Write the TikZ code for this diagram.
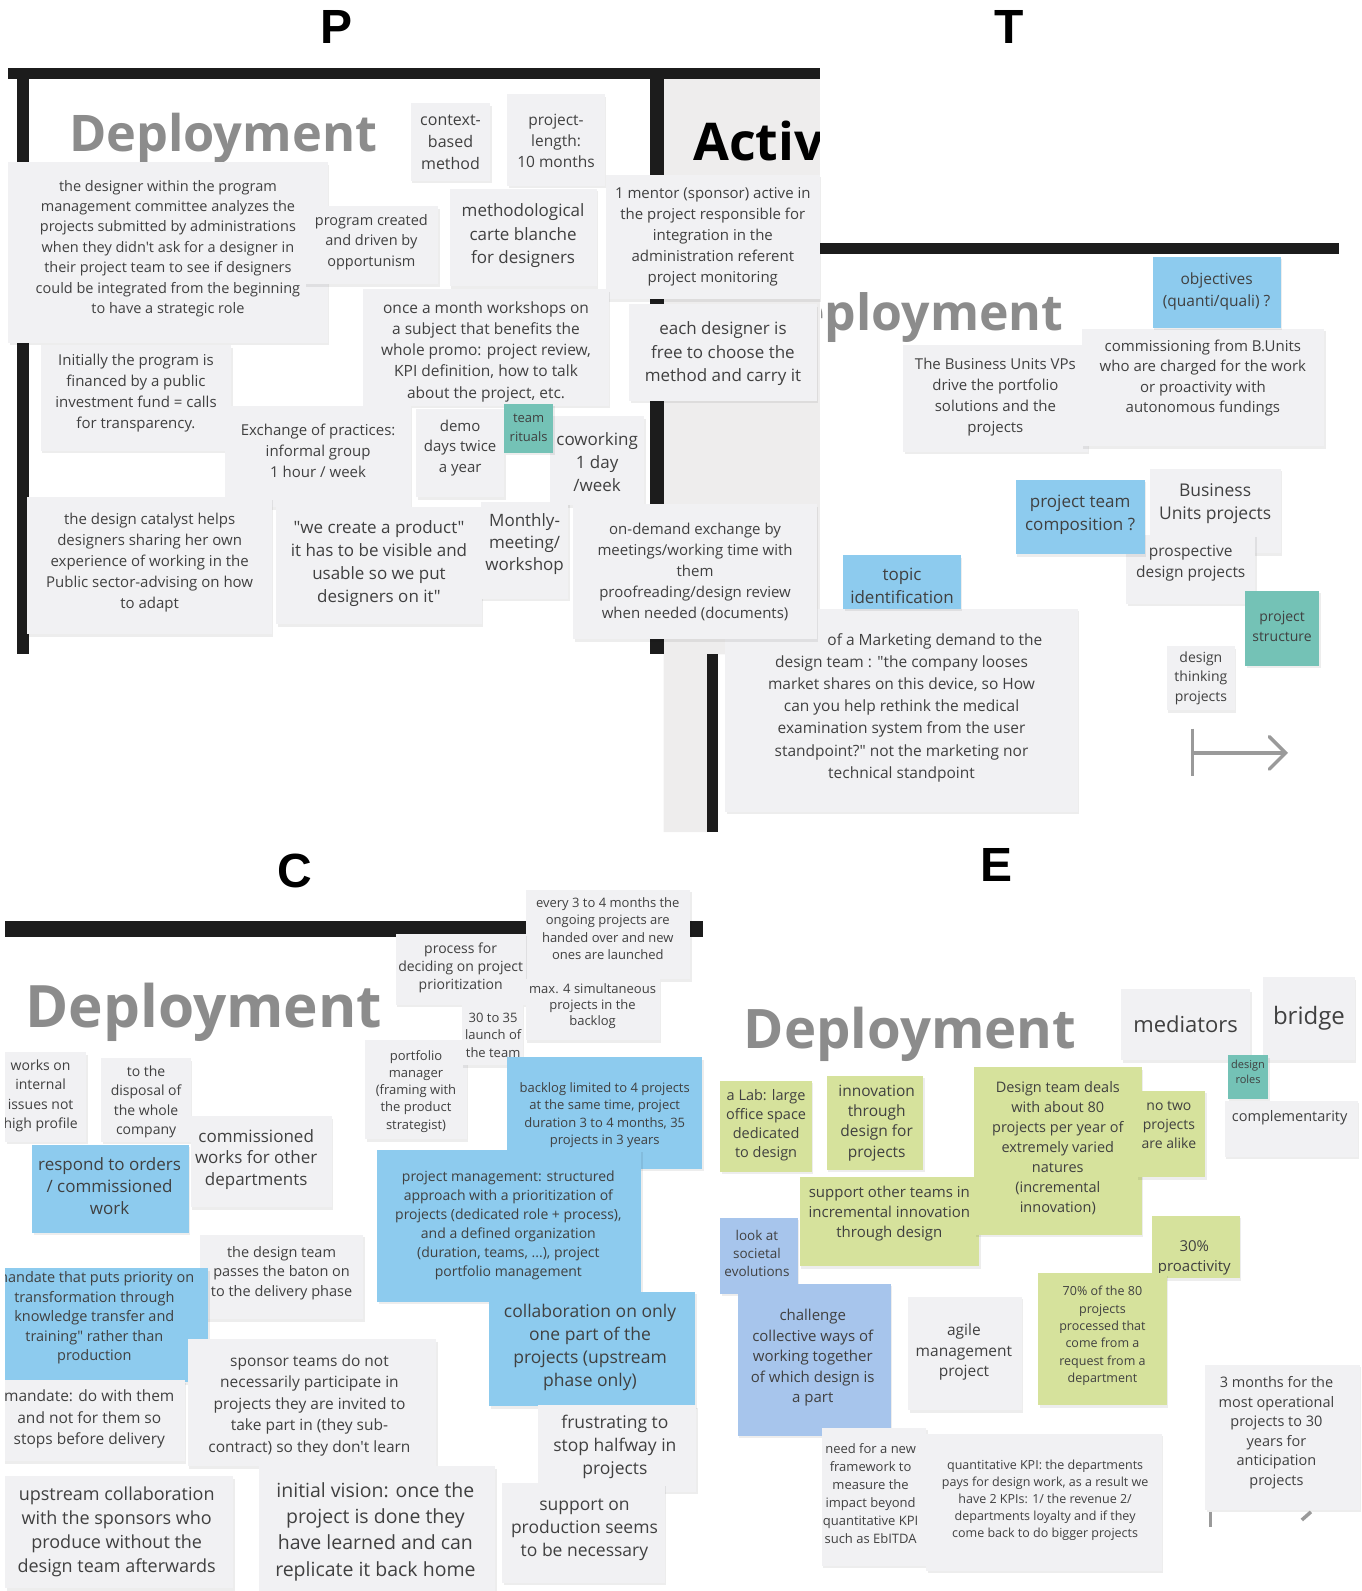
\documentclass[tikz,border=0pt]{standalone}
\usepackage{fontspec}
\setmainfont{Open Sans}[Ligatures=TeXOff]
\newfontfamily\labfont{Liberation Sans}
\usetikzlibrary{calc}
\definecolor{notegray}{HTML}{F1F1F3}
\definecolor{nblue}{HTML}{8DCBEE}
\definecolor{nteal}{HTML}{74C2B6}
\definecolor{ngreen}{HTML}{D6E29C}
\definecolor{nlav}{HTML}{A7C5EC}
\definecolor{txtc}{HTML}{404040}
\definecolor{depgray}{HTML}{8C8C8C}
\definecolor{actgray}{HTML}{EEEDED}
\definecolor{barc}{HTML}{1C1C1C}
\definecolor{arrgray}{HTML}{9A9A9A}
\newcommand\dq{\symbol{34}}
% sticky note: [text offset]{fill}{name}{x1,y1}{x2,y2}{options}{text}
\newcommand\stk[7][0,0]{%
  \fill[black,opacity=0.07] ($(#4)+(1.5,2.5)$) rectangle ($(#5)+(1.5,2.5)$);
  \fill[#2] (#4) rectangle (#5);
  \node[txt,#6] (#3) at ($(#4)!0.5!(#5)+(#1)$) {#7};}
\begin{document}
\begin{tikzpicture}[x=1.015pt,y=-1.015pt,
  txt/.style={align=center, inner sep=0pt, text=txtc},
  fs/.style 2 args={font=\fontsize{#1}{#2}\selectfont},
  lab/.style={font=\labfont\bfseries\fontsize{48}{48}\selectfont, text=black, inner sep=0pt},
  dep/.style={anchor=base west, text=depgray, inner sep=0pt},
  bigfont/.style={font=\bfseries\fontsize{#1}{#1}\selectfont}]
\useasboundingbox (0,0) rectangle (1342,1568);

% ---------- panel labels
\node[lab] (labP) at (332,27) {P};
\node[lab] (labT) at (995,27) {T};
\node[lab] (labC) at (291,858) {C};
\node[lab] (labE) at (982,852) {E};

% ---------- background pieces of P / T
\begin{scope}
  \clip (810,250) rectangle (1100,345);
  \node[dep, anchor=base east, bigfont=50] (tDep) at (1048,326) {Deployment};
\end{scope}
\fill[actgray] (654,78) -- (808,78) -- (808,645) -- (697,645) -- (697,820) -- (654,820) -- cycle;
\fill[barc] (8,67) rectangle (808,78);
\fill[barc] (17,78) rectangle (29,645);
\fill[barc] (641,78) rectangle (654,645);
\fill[barc] (808,239) rectangle (1320,250);
\fill[barc] (697,645) rectangle (708,820);
\begin{scope}
  \clip (654,78) rectangle (808,300);
  \node[anchor=base west, inner sep=0pt, text=black, bigfont=52] (activ) at (683,158) {Activ};
\end{scope}
\node[dep, bigfont=50.5] (pDep) at (68,149) {Deployment};

% ---------- P notes
\stk{notegray}{pContext}{405,102}{483,178}{fs={16}{22}}{context-\\based\\method}
\stk[0,1]{notegray}{pLength}{500,93}{596,183}{fs={15.5}{21}}{project-\\length:\\10 months}
\stk[0,-4]{notegray}{pDesigner}{8,160}{323,338}{fs={14.5}{20.4}}{the designer within the program\\management committee analyzes the\\projects submitted by administrations\\when they didn't ask for a designer in\\their project team to see if designers\\could be integrated from the beginning\\to have a strategic role}
\stk[0,-3]{notegray}{pProgram}{300,203}{432,280}{fs={14.5}{20.5}}{program created\\and driven by\\opportunism}
\stk[0,-1.5]{notegray}{pMethod}{443,186}{588,282}{fs={17}{23.5}}{methodological\\carte blanche\\for designers}
\stk{notegray}{pMentor}{597,172}{808,295}{fs={15}{21}}{1 mentor (sponsor) active in\\the project responsible for\\integration in the\\administration referent\\project monitoring}
\stk[0,4]{notegray}{pMonth}{358,285}{600,400}{fs={15.5}{21.3}}{once a month workshops on\\a subject that benefits the\\whole promo: project review,\\KPI definition, how to talk\\about the project, etc.}
\stk[0,1]{notegray}{pFree}{620,300}{805,395}{fs={17}{23.5}}{each designer is\\free to choose the\\method and carry it}
\stk[0,-4.5]{notegray}{pInit}{40,340}{228,444}{fs={15}{21}}{Initially the program is\\financed by a public\\investment fund = calls\\for transparency.}
\stk[0,-6]{notegray}{pExch}{222,400}{405,500}{fs={15}{21}}{Exchange of practices:\\informal group\\1 hour / week}
\stk[0,-5]{notegray}{pDemo}{410,403}{497,490}{fs={15}{20.5}}{demo\\days twice\\a year}
\stk[0,1]{notegray}{pCowork}{542,410}{635,498}{fs={17}{23}}{coworking\\1 day\\/week}
\stk{nteal}{pRituals}{497,398}{545,446}{fs={13}{19}}{team\\rituals}
\stk[0,-3.5]{notegray}{pCatalyst}{27,490}{268,625}{fs={15}{21}}{the design catalyst helps\\designers sharing her own\\experience of working in the\\Public sector-advising on how\\to adapt}
\stk[0,-2]{notegray}{pProduct}{272,500}{475,615}{fs={17}{23}}{\dq we create a product\dq\\it has to be visible and\\usable so we put\\designers on it\dq}
\stk[0,-6.5]{notegray}{pMonthly}{474,495}{560,590}{fs={17}{22}}{Monthly-\\meeting/\\workshop}

% ---------- T notes
\stk[0,-2.5]{notegray}{tMarketing}{715,600}{1062,800}{fs={15.5}{22.2}}{\hspace*{4.3em}of a Marketing demand to the\\design team : \dq the company looses\\market shares on this device, so How\\can you help rethink the medical\\examination system from the user\\standpoint?\dq{} not the marketing nor\\technical standpoint}
\stk{notegray}{pDemand}{565,497}{805,630}{fs={15}{21}}{on-demand exchange by\\meetings/working time with\\them\\proofreading/design review\\when needed (documents)}
\stk[0,-1]{notegray}{tVPs}{890,340}{1072,445}{fs={15}{21}}{The Business Units VPs\\drive the portfolio\\solutions and the\\projects}
\stk[0,-9.5]{notegray}{tComm}{1066,324}{1305,440}{fs={15}{20.5}}{commissioning from B.Units\\who are charged for the work\\or proactivity with\\autonomous fundings}
\stk[0,-1]{nblue}{tObj}{1136,253}{1262,323}{fs={15.5}{22}}{objectives\\(quanti/quali) ?}
\stk[0,-7]{notegray}{tBU}{1133,462}{1262,545}{fs={17.5}{23.5}}{Business\\Units projects}
\stk[0,-5.5]{notegray}{tProsp}{1110,527}{1237,595}{fs={15.5}{21}}{prospective\\design projects}
\stk[0,-2]{nblue}{tTeam}{1001,473}{1128,546}{fs={17}{23}}{project team\\composition ?}
\stk[0,4]{nblue}{tTopic}{831,547}{947,600}{fs={17}{23}}{topic\\identification}
\stk{notegray}{tDT}{1150,637}{1217,700}{fs={14}{19.5}}{design\\thinking\\projects}
\stk[0,-2]{nteal}{tStruct}{1227,582}{1300,656}{fs={14}{20}}{project\\structure}
\draw[arrgray, line width=3.5pt] (1175,718) -- (1175,765);
\draw[arrgray, line width=3.5pt] (1175,742) -- (1266,742);
\draw[arrgray, line width=3.5pt, line cap=round] (1251,726) -- (1267,742) -- (1251,758);

% ---------- C panel
\begin{scope}
\clip (5,830) rectangle (710,1568);
\fill[barc] (5,908) rectangle (693,923);
\node[dep, bigfont=58.5] (cDep) at (25,1013) {Deployment};
\stk[0,-6]{notegray}{cEvery}{518,877}{680,965}{fs={13}{17.4}}{every 3 to 4 months the\\ongoing projects are\\handed over and new\\ones are launched}
\stk[0,-1]{notegray}{cProcess}{390,920}{518,990}{fs={14}{18}}{process for\\deciding on project\\prioritization}
\stk[0,-3]{notegray}{cMax}{518,965}{650,1025}{fs={13}{16}}{max. 4 simultaneous\\projects in the\\backlog}
\stk[0,1.5]{notegray}{cPortfolio}{360,1025}{460,1123}{fs={13}{17.3}}{portfolio\\manager\\(framing with\\the product\\strategist)}
\stk[1,0]{notegray}{cLaunch}{455,990}{515,1050}{fs={13}{17.5}}{30 to 35\\launch of\\the team}
\stk[0,2]{nblue}{cBacklog}{500,1042}{692,1152}{fs={13}{17.4}}{backlog limited to 4 projects\\at the same time, project\\duration 3 to 4 months, 35\\projects in 3 years}
\stk[-1,0]{nblue}{cPM}{372,1133}{632,1283}{fs={14}{19}}{project management: structured\\approach with a prioritization of\\projects (dedicated role + process),\\and a defined organization\\(duration, teams, ...), project\\portfolio management}
\stk[-2,-2]{nblue}{cCollab}{482,1273}{685,1386}{fs={17.5}{23}}{collaboration on only\\one part of the\\projects (upstream\\phase only)}
\stk[-2,-1.5]{notegray}{cFrust}{530,1385}{686,1470}{fs={17.5}{23}}{frustrating to\\stop halfway in\\projects}
\stk[1,-3]{notegray}{cSupport}{495,1462}{655,1560}{fs={17.5}{23}}{support on\\production seems\\to be necessary}
\stk[-5,-1]{notegray}{cWorks}{5,1037}{85,1125}{fs={14}{19.3}}{works on\\internal\\issues not\\high profile}
\stk[0,2]{notegray}{cDisposal}{100,1043}{188,1125}{fs={14}{19.3}}{to the\\disposal of\\the whole\\company}
\stk[-5,-2.5]{notegray}{cCommissioned}{188,1100}{327,1190}{fs={17}{21.5}}{commissioned\\works for other\\departments}
\stk[-1,-2.5]{nblue}{cRespond}{32,1128}{186,1215}{fs={17}{22}}{respond to orders\\/ commissioned\\work}
\stk[0,-4]{notegray}{cPasses}{197,1217}{358,1300}{fs={14.5}{19.5}}{the design team\\passes the baton on\\to the delivery phase}
\stk[-9.5,-7]{nblue}{cMandate}{0,1250}{205,1362}{fs={14.5}{19.5}}{mandate that puts priority on\\transformation through\\knowledge transfer and\\training\dq{} rather than\\production}
\stk[-3,-1.5]{notegray}{cMandate2}{0,1360}{182,1440}{fs={15.5}{21.5}}{mandate: do with them\\and not for them so\\stops before delivery}
\stk[-2.5,2.5]{notegray}{cSponsor}{185,1320}{430,1445}{fs={15.5}{21.5}}{sponsor teams do not\\necessarily participate in\\projects they are invited to\\take part in (they sub-\\contract) so they don't learn}
\stk[-2.5,0]{notegray}{cUpstream}{5,1455}{230,1565}{fs={18}{24}}{upstream collaboration\\with the sponsors who\\produce without the\\design team afterwards}
\stk[-1.5,3]{notegray}{cVision}{255,1445}{488,1568}{fs={19.5}{26.3}}{initial vision: once the\\project is done they\\have learned and can\\replicate it back home}
\end{scope}

% ---------- E panel
\node[dep, bigfont=54.5] (eDep) at (733,1033) {Deployment};
\stk[0,-1]{notegray}{eMediators}{1105,975}{1232,1045}{fs={22}{26}}{mediators}
\stk{notegray}{eBridge}{1245,963}{1335,1045}{fs={24}{28}}{bridge}
\stk[-1.5,-10.5]{notegray}{eCompl}{1207,1085}{1338,1140}{fs={14.5}{19}}{complementarity}
\stk[0,-5]{nteal}{eRoles}{1210,1040}{1250,1083}{fs={11}{15}}{design\\roles}
\stk[0,-1]{ngreen}{eLab}{710,1065}{800,1155}{fs={14.5}{19.3}}{a Lab: large\\office space\\dedicated\\to design}
\stk[1.5,0]{ngreen}{eInnov}{815,1060}{910,1153}{fs={15.5}{20.3}}{innovation\\through\\design for\\projects}
\stk[0,-8]{ngreen}{eSupport}{788,1160}{965,1248}{fs={15}{20}}{support other teams in\\incremental innovation\\through design}
\stk[0,-2.5]{ngreen}{eDeals}{960,1052}{1125,1217}{fs={14.5}{20}}{Design team deals\\with about 80\\projects per year of\\extremely varied\\natures\\(incremental\\innovation)}
\stk[-2,-8.5]{ngreen}{eNoTwo}{1120,1075}{1188,1160}{fs={14}{19}}{no two\\projects\\are alike}
\stk[-2,-2.5]{nlav}{eLook}{710,1200}{786,1275}{fs={13.5}{18}}{look at\\societal\\evolutions}
\stk[-1.5,-2]{nlav}{eChallenge}{727,1265}{878,1415}{fs={15}{20.5}}{challenge\\collective ways of\\working together\\of which design is\\a part}
\stk[-1.5,11]{ngreen}{eThirty}{1135,1198}{1222,1260}{fs={15}{20}}{30\%\\proactivity}
\stk[0,-3.5]{ngreen}{eSeventy}{1023,1255}{1150,1385}{fs={12.5}{17.4}}{70\% of the 80\\projects\\processed that\\come from a\\request from a\\department}
\stk[-1,-1.5]{notegray}{eAgile}{895,1278}{1007,1390}{fs={15.5}{20.5}}{agile\\management\\project}
\stk[-6,-4.5]{notegray}{eMonths}{1188,1345}{1340,1488}{fs={14.5}{19.6}}{3 months for the\\most operational\\projects to 30\\years for\\anticipation\\projects}
\draw[arrgray, line width=3.5pt] (1193,1490) -- (1193,1505);
\draw[arrgray, line width=3.5pt] (1283,1498) -- (1292,1490);
\stk[-3.5,-3]{notegray}{eNeed}{810,1407}{913,1543}{fs={13}{18}}{need for a new\\framework to\\measure the\\impact beyond\\quantitative KPI\\such as EbITDA}
\stk[1,-2]{notegray}{eQuant}{913,1413}{1145,1548}{fs={12.5}{16.8}}{quantitative KPI: the departments\\pays for design work, as a result we\\have 2 KPIs: 1/ the revenue 2/\\departments loyalty and if they\\come back to do bigger projects}
\end{tikzpicture}
\end{document}
